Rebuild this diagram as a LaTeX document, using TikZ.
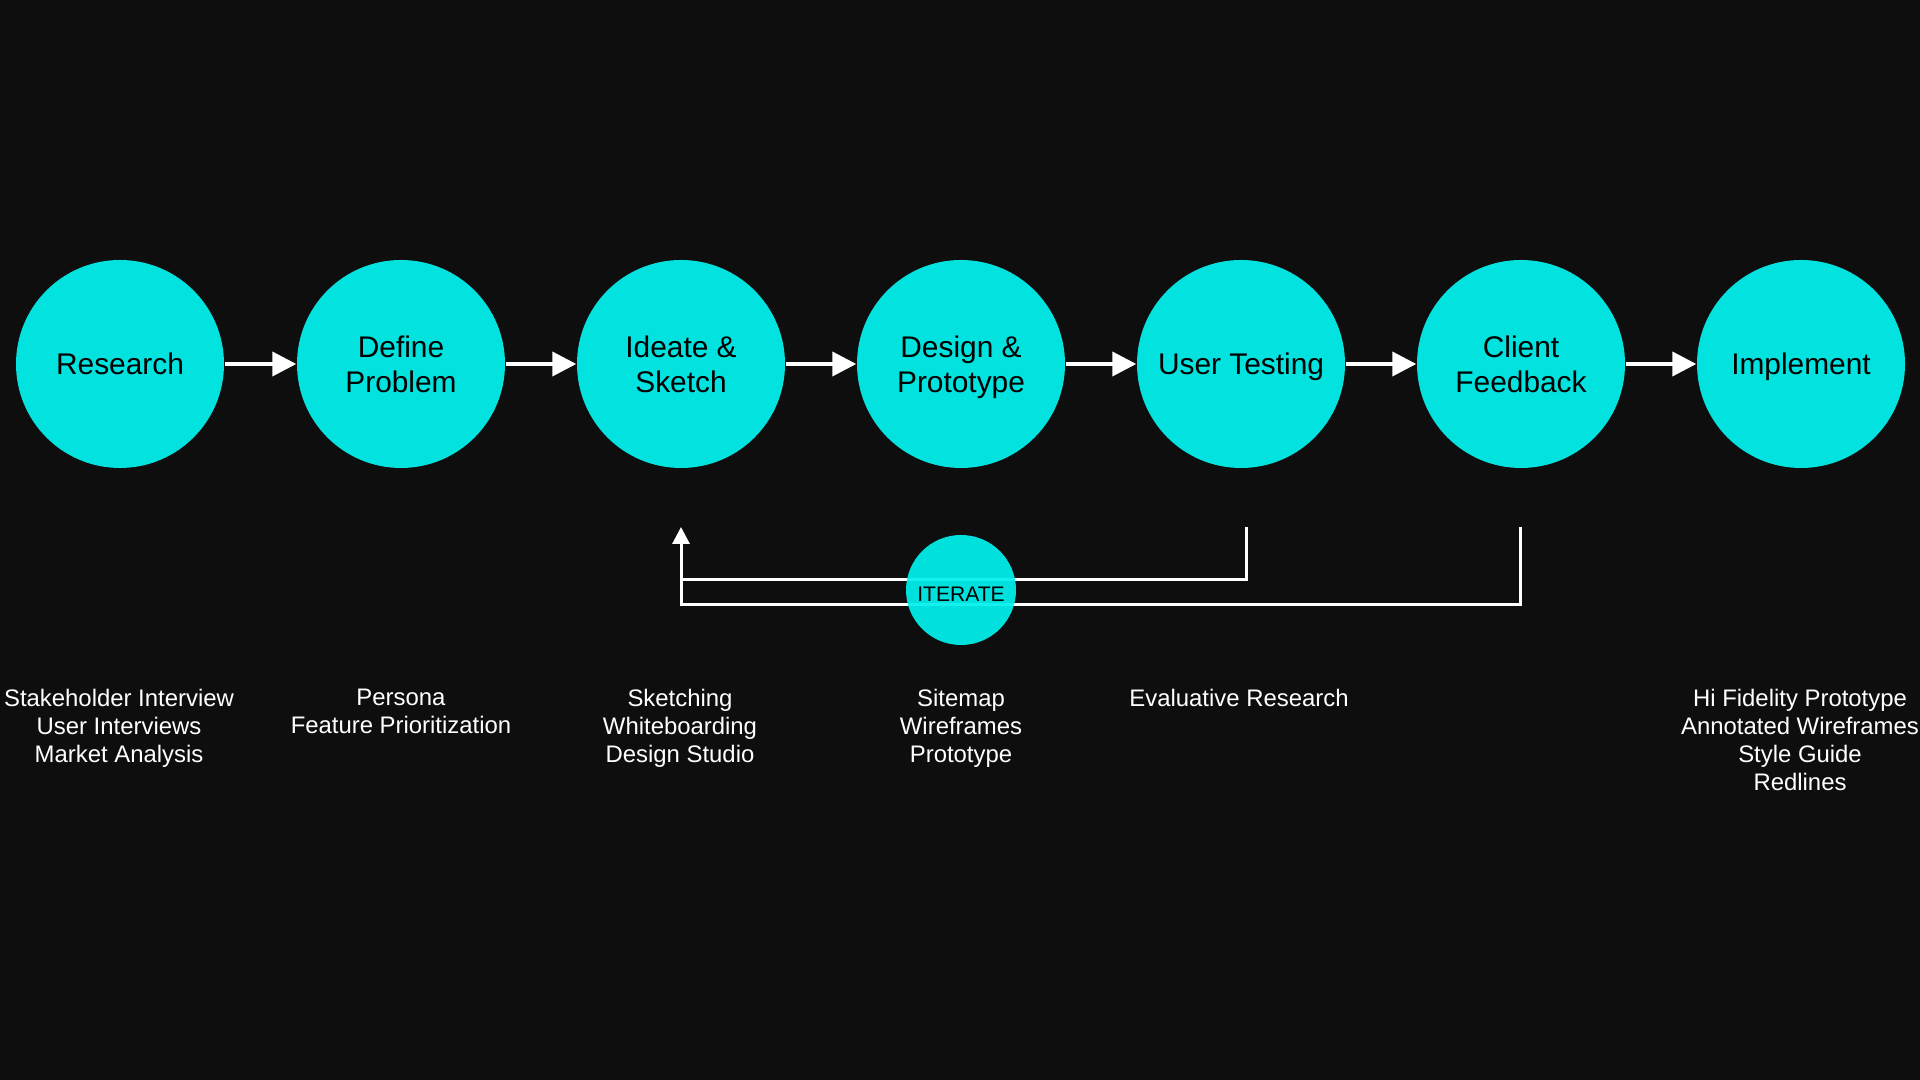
\documentclass[tikz,border=0pt]{standalone}
\usepackage{fontspec}
\setmainfont{Liberation Sans}
\usetikzlibrary{arrows.meta}
\definecolor{bgdark}{RGB}{14,14,14}
\definecolor{stagecyan}{RGB}{2,226,222}
\definecolor{iteratecyan}{RGB}{0,240,236}
\tikzstyle{stage}=[circle, fill=stagecyan, minimum size=2.08cm, inner sep=0pt, align=center, text=black, text depth=0pt, font=\fontsize{8.5}{10.1}\selectfont]
\tikzstyle{notes}=[anchor=north, inner sep=0pt, align=center, text=white, font=\fontsize{6.8}{8}\selectfont]
\tikzstyle{flow}=[draw=white, line width=1.1pt, -{Triangle[length=0.24cm, width=0.24cm]}]
\tikzstyle{loopline}=[draw=white, line width=0.85pt]

\begin{document}
\begin{tikzpicture}
        \fill[bgdark] (0,0) rectangle (19.2,10.8);
        \useasboundingbox (0,0) rectangle (19.2,10.8);
        % stages
        \node[stage] (research) at (1.20, 7.16) {Research};
        \node[stage] (define) at (4.01, 7.16) {Define\\Problem};
        \node[stage] (ideate) at (6.81, 7.16) {Ideate \&\\Sketch};
        \node[stage] (design) at (9.61, 7.16) {Design \&\\Prototype};
        \node[stage] (testing) at (12.41, 7.16) {User Testing};
        \node[stage] (client) at (15.21, 7.16) {Client\\Feedback};
        \node[stage] (implement) at (18.01, 7.16) {Implement};
        \draw[flow] (research) -- (define);
        \draw[flow] (define) -- (ideate);
        \draw[flow] (ideate) -- (design);
        \draw[flow] (design) -- (testing);
        \draw[flow] (testing) -- (client);
        \draw[flow] (client) -- (implement);
        % iterate loop
        \coordinate (back) at (6.81, 5.53);
        \coordinate (fromtest) at (12.46, 5.53);
        \coordinate (fromclient) at (15.20, 5.53);
        \draw[loopline] (fromtest) |- (6.81, 5.00);
        \draw[loopline, -{Triangle[length=0.17cm, width=0.17cm]}] (fromclient) |- (6.81, 4.75) -- (back);
        \node[circle, fill=iteratecyan, fill opacity=0.93, text opacity=1, minimum size=1.10cm, inner sep=0pt, text height=6.6pt, text depth=0pt, font=\fontsize{6}{7}\selectfont] (iterate) at (9.61, 4.90) {ITERATE};
        % deliverables
        \node[notes] (researchnotes) at (1.19, 3.915) {Stakeholder Interview\\User Interviews\\Market Analysis};
        \node[notes] (definenotes) at (4.01, 3.915) {Persona\\Feature Prioritization};
        \node[notes] (ideatenotes) at (6.80, 3.915) {Sketching\\Whiteboarding\\Design Studio};
        \node[notes] (designnotes) at (9.61, 3.915) {Sitemap\\Wireframes\\Prototype};
        \node[notes] (testingnotes) at (12.39, 3.915) {Evaluative Research};
        \node[notes] (implementnotes) at (18.00, 3.915) {Hi Fidelity Prototype\\Annotated Wireframes\\Style Guide\\Redlines};
    \end{tikzpicture}
\end{document}
